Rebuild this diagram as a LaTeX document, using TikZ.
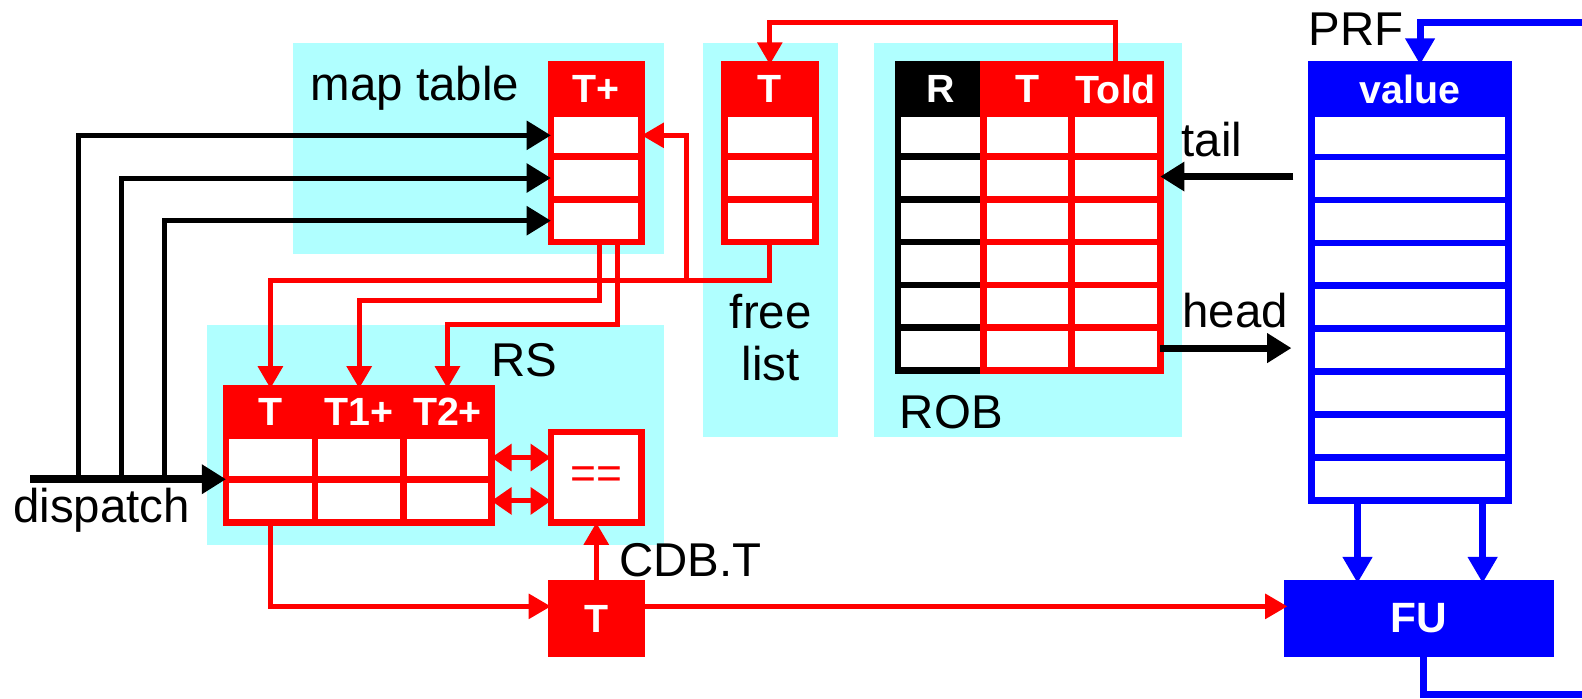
\documentclass[tikz,border=0pt]{standalone}
\usepackage{fontspec}
\setmainfont{Liberation Sans}
\usetikzlibrary{arrows.meta,positioning,calc}
\definecolor{bgcyan}{RGB}{176,255,255}

\begin{document}
\begin{tikzpicture}[x=1pt,y=-1pt,
every node/.style={inner sep=0pt,outer sep=0pt},
area/.style={fill=bgcyan},
lbl/.style={anchor=base west,font=\fontsize{47}{52}\selectfont},
hcell/.style={draw=red,fill=red,line width=6.5pt,text=white,font=\bfseries\fontsize{39}{44}\selectfont,minimum height=49pt},
cell/.style={draw=red,fill=white,line width=6.5pt,minimum height=42.3pt},
rline/.style={draw=red,line width=5pt},
rarr/.style={rline,-{Triangle[length=22pt,width=24pt]}},
rdbl/.style={rline,{Triangle[length=20pt,width=26pt]}-{Triangle[length=20pt,width=26pt]}},
barr/.style={draw=black,line width=5pt,-{Triangle[length=24pt,width=28pt]}},
bluarr/.style={draw=blue,line width=7pt,-{Triangle[length=26pt,width=28pt]}}
]
\useasboundingbox (0,0) rectangle (1568,692);

\fill[area] (290,43) rectangle (658,252);
\fill[area] (697,43) rectangle (831,433);
\fill[area] (866,43) rectangle (1172,433);
\fill[area] (205,322) rectangle (658,540);

\node[lbl] (mtlbl) at (308,100) {map table};
\node[lbl,anchor=base] (fllbl1) at (764,326) {free};
\node[lbl,anchor=base] (fllbl2) at (764,377) {list};
\node[lbl] (roblbl) at (892,425) {ROB};
\node[lbl] (rslbl) at (487,373) {RS};
\node[lbl] (taillbl) at (1171,155) {tail};
\node[lbl] (headlbl) at (1172,325) {head};
\node[lbl] (prflbl) at (1297,45) {PRF};
\node[lbl] (cdblbl) at (614,571) {CDB.T};
\node[lbl] (dsplbl) at (13,518) {dispatch};

% map table and free list
\node[hcell,minimum width=90pt] (mth) at (591,88.5) {T+};
\node[hcell,minimum width=90pt] (flh) at (763,88.5) {T};
\foreach \i in {1,2,3}{
  \node[cell,minimum width=90pt] (mt\i) at (591,{113+42.3*(\i-0.5)}) {};
  \node[cell,minimum width=90pt] (fl\i) at (763,{113+42.3*(\i-0.5)}) {};
}

% ROB
\node[hcell,draw=black,fill=black,minimum width=85pt] (robh1) at (932.5,88.5) {R};
\node[hcell,minimum width=87pt] (robh2) at (1018.5,88.5) {T};
\node[hcell,minimum width=88pt] (robh3) at (1106,88.5) {Told};
\foreach \i in {1,...,6}{
  \node[cell,draw=black,minimum width=85pt] (rob\i a) at (932.5,{113+42.33*(\i-0.5)}) {};
  \node[cell,minimum width=87pt] (rob\i b) at (1018.5,{113+42.33*(\i-0.5)}) {};
  \node[cell,minimum width=88pt] (rob\i c) at (1106,{113+42.33*(\i-0.5)}) {};
}

% PRF
\node[hcell,draw=blue,fill=blue,minimum width=195pt] (prfh) at (1397.5,88.5) {value};
\foreach \i in {1,...,9}
  \node[cell,draw=blue,minimum width=195pt,minimum height=42.55pt] (prf\i) at (1397.5,{113+42.55*(\i-0.5)}) {};

% RS
\node[hcell,minimum width=88pt,minimum height=47pt] (rsh1) at (268,408.5) {T};
\node[hcell,minimum width=88pt,minimum height=47pt] (rsh2) at (356,408.5) {T1+};
\node[hcell,minimum width=87pt,minimum height=47pt] (rsh3) at (443.5,408.5) {T2+};
\foreach \i in {1,2}{
  \node[cell,minimum width=88pt,minimum height=43pt] (rs\i c1) at (268,{432+43*(\i-0.5)}) {};
  \node[cell,minimum width=88pt,minimum height=43pt] (rs\i c2) at (356,{432+43*(\i-0.5)}) {};
  \node[cell,minimum width=87pt,minimum height=43pt] (rs\i c3) at (443.5,{432+43*(\i-0.5)}) {};
}
\node[cell,minimum width=90pt,minimum height=90pt,text=red,font=\fontsize{44}{48}\selectfont] (eq) at (591,473) {==};
\node[hcell,minimum width=90pt,minimum height=70pt] (cdbt) at (591,613) {T};
\node[hcell,draw=blue,fill=blue,minimum width=261pt,minimum height=70pt,font=\bfseries\fontsize{42}{46}\selectfont] (fu) at (1406.5,613) {FU};

% red connectors
\coordinate (split) at (680,278);
\draw[rarr] (fl3.south) -- ++(0,38) -| (rsh1.north);
\draw[rarr] (split) |- (mt1.east);
\draw[rarr] ([xshift=3pt]mt3.south) -- ++(0,58) -| (rsh2.north);
\draw[rarr] ([xshift=21pt]mt3.south) -- ++(0,82) -| (rsh3.north);
\draw[rarr] (robh3.north) -- ++(0,-42) -| (flh.north);
\draw[rarr] (rs2c1.south) |- ([yshift=12pt]cdbt.west);
\draw[rarr] (cdbt.north) -- (eq.south);
\draw[rarr] ([yshift=12pt]cdbt.east) -- ([yshift=12pt]fu.west);
\draw[rdbl] (rs1c3.east) -- (rs1c3.east -| eq.west);
\draw[rdbl] (rs2c3.east) -- (rs2c3.east -| eq.west);

% dispatch
\coordinate (dsp) at (30,475);
\draw[barr,line width=8pt] (dsp) -- (rs1c1.south west);
\foreach \x/\r in {78/1,120/2,163/3}{
  \coordinate (dv\r) at (\x,475);
  \draw[barr] (dv\r) |- (mt\r.west);
}

% ROB pointers
\coordinate (tailp) at (1282,175);
\coordinate (headp) at (1280,345);
\draw[barr,line width=7pt] (tailp) -- (tailp -| rob2c.east);
\draw[barr,line width=7pt] (headp -| rob6c.east) -- (headp);

% PRF and FU
\coordinate (wbin) at (1568,22);
\coordinate (wbout) at (1568,688);
\draw[bluarr] (wbin) -| ([xshift=10pt]prfh.north);
\draw[draw=blue,line width=7pt] ([xshift=4pt]fu.south) |- (wbout);
\draw[bluarr] ([xshift=-52pt]prf9.south) -- ([xshift=-52pt]prf9.south |- fu.north);
\draw[bluarr] ([xshift=72pt]prf9.south) -- ([xshift=72pt]prf9.south |- fu.north);
\end{tikzpicture}
\end{document}
